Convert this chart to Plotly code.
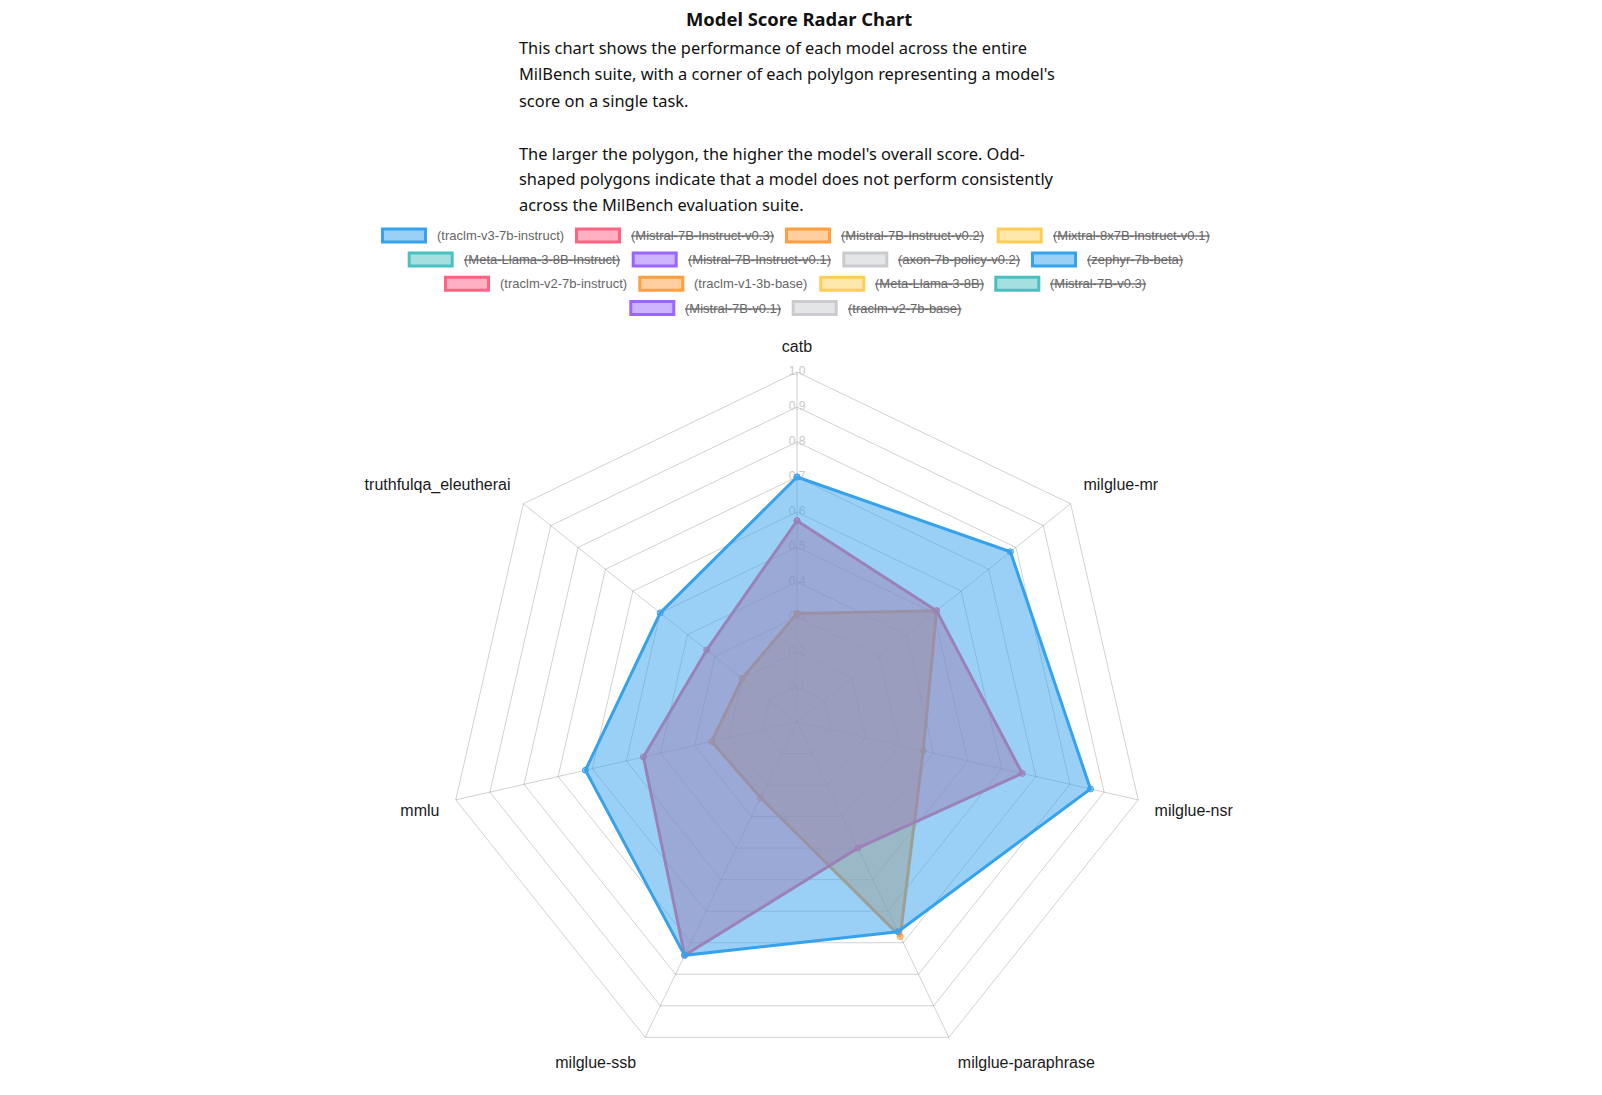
import plotly.graph_objects as go

# ---------------- data ----------------
tasks = ["catb", "milglue-mr", "milglue-nsr", "milglue-paraphrase",
         "milglue-ssb", "mmlu", "truthfulqa_eleutherai"]

v3_7b_instruct = [0.70, 0.78, 0.86, 0.665, 0.74, 0.62, 0.50]
v2_7b_instruct = [0.575, 0.51, 0.66, 0.40, 0.74, 0.45, 0.33]
v1_3b_base = [0.31, 0.51, 0.37, 0.68, 0.24, 0.25, 0.20]

radial_ticks = [0.1, 0.2, 0.3, 0.4, 0.5, 0.6, 0.7, 0.8, 0.9, 1.0]
radial_tick_labels = ["0.1", "0.2", "0.3", "0.4", "0.5", "0.6", "0.7", "0.8", "0.9", "1.0"]

legend_names = [
    "(traclm-v3-7b-instruct)", "(Mistral-7B-Instruct-v0.3)", "(Mistral-7B-Instruct-v0.2)",
    "(Mixtral-8x7B-Instruct-v0.1)", "(Meta-Llama-3-8B-Instruct)", "(Mistral-7B-Instruct-v0.1)",
    "(axon-7b-policy-v0.2)", "(zephyr-7b-beta)", "(traclm-v2-7b-instruct)",
    "(traclm-v1-3b-base)", "(Meta-Llama-3-8B)", "(Mistral-7B-v0.3)",
    "(Mistral-7B-v0.1)", "(traclm-v2-7b-base)"]
legend_hidden = [False, True, True, True, True, True, True, True, False, False,
                 True, True, True, True]

title_text = "Model Score Radar Chart"
desc_lines = [
    "This chart shows the performance of each model across the entire",
    "MilBench suite, with a corner of each polylgon representing a model's",
    "score on a single task.",
    "",
    "The larger the polygon, the higher the model's overall score. Odd-",
    "shaped polygons indicate that a model does not perform consistently",
    "across the MilBench evaluation suite.",
]

# ---------------- styles ----------------
W, H = 1602, 1095
palette = [(54, 162, 235), (255, 99, 132), (255, 159, 64), (255, 205, 86),
           (75, 192, 192), (153, 102, 255), (201, 203, 207)]


def solid(c):
    return "rgb(%d,%d,%d)" % c


def half(c):
    return "rgba(%d,%d,%d,0.5)" % c


def px(x):
    return x / W


def py(y):
    return 1 - y / H


CHART_FONT = "Liberation Sans, Arial, Helvetica, sans-serif"
PAGE_FONT = "Noto Sans, Open Sans, sans-serif"
grid = "rgba(0,0,0,0.18)"
R_MAX = 1.062         # radial range (a little room for the point labels)
label_r = [1.047, 1.047, 1.048, 1.059, 1.059, 1.048, 1.047]
label_pos = ["top center", "top right", "bottom right", "bottom right",
             "bottom left", "bottom left", "top left"]

fig = go.Figure()

# angle lines (spokes) from the centre to the outer ring
spoke_r, spoke_t = [], []
for t in tasks:
    spoke_r += [0, 1, None]
    spoke_t += [t, t, t]
fig.add_trace(go.Scatterpolar(
    r=spoke_r, theta=spoke_t, mode="lines", connectgaps=False,
    line=dict(color=grid, width=1), hoverinfo="skip", showlegend=False))

# radial tick labels (drawn under the datasets, like the reference)
fig.add_trace(go.Scatterpolar(
    r=radial_ticks, theta=[tasks[0]] * len(radial_ticks), text=radial_tick_labels,
    mode="text", textposition="middle center",
    textfont=dict(family=CHART_FONT, size=12, color="#c8c8c8"),
    hoverinfo="skip", showlegend=False))

series = [
    ("(traclm-v1-3b-base)", v1_3b_base, palette[2]),
    ("(traclm-v2-7b-instruct)", v2_7b_instruct, palette[1]),
    ("(traclm-v3-7b-instruct)", v3_7b_instruct, palette[0]),
]
for name, vals, col in series:
    fig.add_trace(go.Scatterpolar(
        r=vals + vals[:1], theta=tasks + tasks[:1], name=name,
        mode="lines+markers", fill="toself", fillcolor=half(col),
        line=dict(color=solid(col), width=3),
        marker=dict(size=6, color=half(col), line=dict(color=solid(col), width=1)),
        showlegend=False))

# point labels around the outside
fig.add_trace(go.Scatterpolar(
    r=label_r, theta=tasks, text=tasks, mode="text",
    textposition=label_pos, cliponaxis=False,
    textfont=dict(family=CHART_FONT, size=16, color="#1a1a1a"),
    hoverinfo="skip", showlegend=False))

cx, cy, R = 797, 722, 350
RD = R * R_MAX
fig.update_layout(
    width=W, height=H, margin=dict(l=0, r=0, t=0, b=0),
    paper_bgcolor="white", plot_bgcolor="white",
    showlegend=False,
    polar=dict(
        domain=dict(x=[px(cx - RD), px(cx + RD)], y=[py(cy + RD), py(cy - RD)]),
        gridshape="linear", bgcolor="rgba(0,0,0,0)",
        radialaxis=dict(range=[0, R_MAX], tickvals=radial_ticks, showticklabels=False,
                        ticks="", showline=False, gridcolor=grid, gridwidth=1, angle=90,
                        layer="below traces"),
        angularaxis=dict(rotation=90, direction="clockwise", showticklabels=False,
                         ticks="", showgrid=False, showline=False,
                         layer="below traces"),
    ),
)

# title and description
fig.add_annotation(x=px(799), y=py(18.5), xref="paper", yref="paper",
                   text="<b>%s</b>" % title_text, showarrow=False,
                   xanchor="center", yanchor="middle",
                   font=dict(family=PAGE_FONT, size=18.4, color="#111111"))
desc_y = [47, 73.7, 100, 127, 153.5, 179, 204.6]
for line, yy in zip(desc_lines, desc_y):
    if line:
        fig.add_annotation(x=px(516.6), y=py(yy), xref="paper", yref="paper",
                           text=line, showarrow=False, xanchor="left", yanchor="middle",
                           font=dict(family=PAGE_FONT, size=16.4, color="#111111"))

# legend (Chart.js style boxes; hidden datasets struck through)
legend_rows_y = [235.5, 259.5, 283.7, 308]
legend_box_left = [[381, 575, 785, 996.7], [407.7, 631.7, 842.3, 1031],
                   [444, 638.3, 819.3, 994.3], [629.3, 791.7]]
box_w, box_h, text_off = 43, 13, 55.8
k = 0
for row_y, lefts in zip(legend_rows_y, legend_box_left):
    for bx in lefts:
        col = palette[k % len(palette)]
        fig.add_shape(type="rect", xref="paper", yref="paper",
                      x0=px(bx + 1.5), x1=px(bx + 1.5 + box_w),
                      y0=py(row_y - box_h / 2), y1=py(row_y + box_h / 2),
                      line=dict(color=solid(col), width=3), fillcolor=half(col))
        txt = legend_names[k]
        if legend_hidden[k]:
            txt = "<s>%s</s>" % txt
        fig.add_annotation(x=px(bx + text_off), y=py(row_y), xref="paper", yref="paper",
                           text=txt, showarrow=False, xanchor="left", yanchor="middle",
                           xshift=-2,
                           font=dict(family=CHART_FONT, size=13, color="#666666"))
        k += 1

fig.write_html(
    "out.html",
    config={"displayModeBar": False},
    post_script="document.documentElement.style.overflow='hidden';"
                "document.body.style.margin='0';document.body.style.overflow='hidden';")
